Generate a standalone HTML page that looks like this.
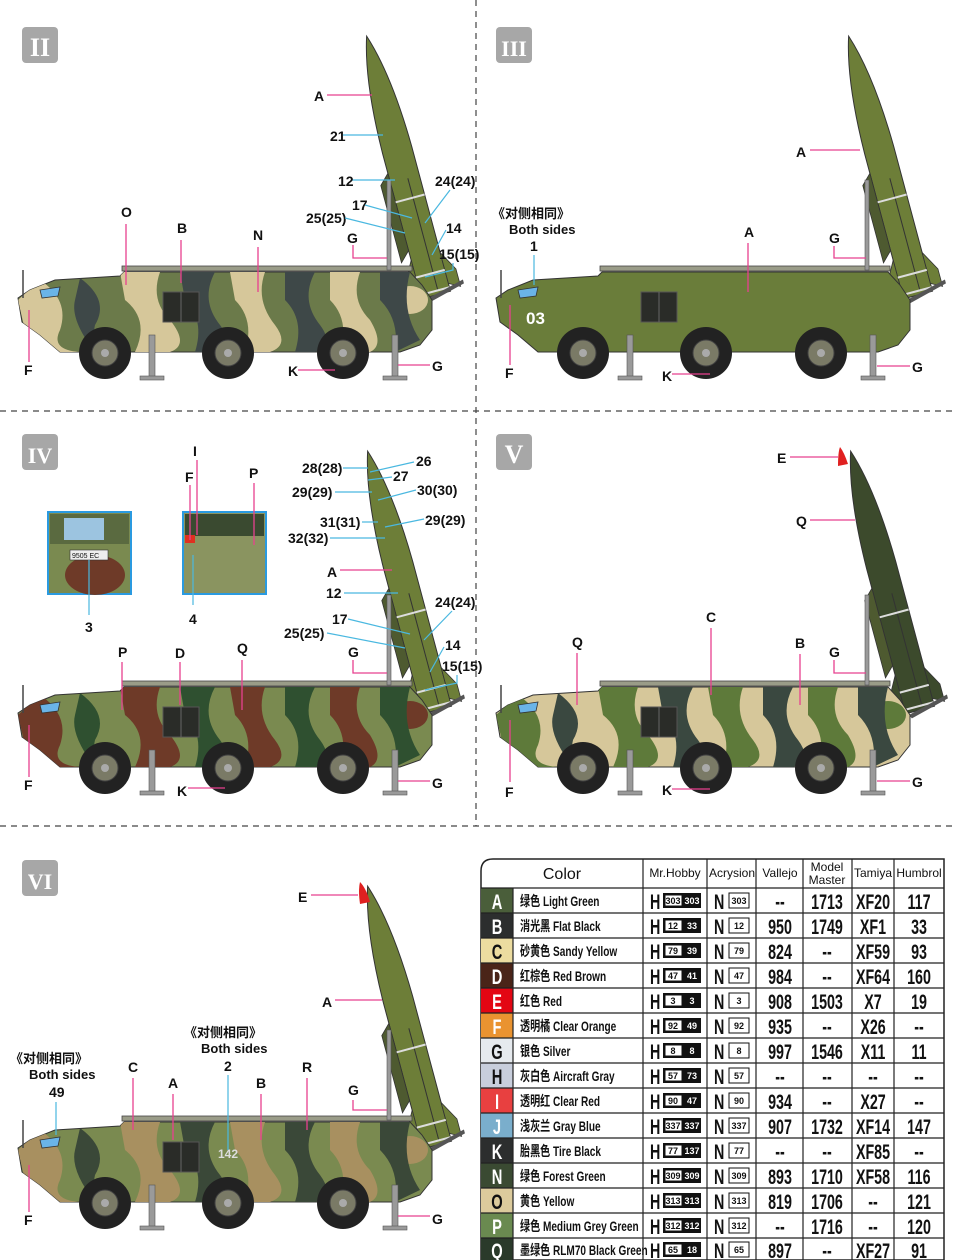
<!DOCTYPE html>
<html><head><meta charset="utf-8"><style>
html,body{margin:0;padding:0;background:#fff}
svg{display:block}
.l{font-family:"Liberation Sans",sans-serif;font-weight:bold;font-size:14px;fill:#111}
.c{font-family:"Liberation Sans","Noto Sans CJK SC",sans-serif;font-weight:bold;font-size:13px;fill:#111}
.pk{stroke:#e8408f;stroke-width:1.3;fill:none}
.cy{stroke:#4ab8e0;stroke-width:1.2;fill:none}
.th{font-family:"Liberation Sans",sans-serif;font-size:12px;fill:#111}
.tn{font-family:"Liberation Sans","Noto Sans CJK SC",sans-serif;font-weight:bold;font-size:14px;fill:#111}
.tv{font-family:"Liberation Sans",sans-serif;font-weight:bold;font-size:21px;fill:#111}
.tl{font-family:"Liberation Sans",sans-serif;font-weight:bold;font-size:21px}
.sm{font-family:"Liberation Sans",sans-serif;font-size:9px;font-weight:bold}
</style></head><body>
<svg width="956" height="1260" viewBox="0 0 956 1260" xmlns="http://www.w3.org/2000/svg">
<defs>
<clipPath id="hc"><path d="M18,298 L30,290 L55,280 L120,276 L124,272 L410,272 L422,285 L432,300 L432,330 L420,345 L400,352 L60,352 L40,335 L22,322 Z"/></clipPath>
<g id="hull"><path d="M18,298 L30,290 L55,280 L120,276 L124,272 L410,272 L422,285 L432,300 L432,330 L420,345 L400,352 L60,352 L40,335 L22,322 Z" fill="currentColor" stroke="#333" stroke-width="1"/></g>
<g id="blobA" fill="currentColor" clip-path="url(#hc)">
<path d="M40,280 Q70,300 60,330 Q50,350 80,352 L30,352 L18,300 Z"/>
<path d="M120,272 L160,272 Q150,300 170,320 Q190,345 170,352 L135,352 Q150,320 125,300 Z"/>
<path d="M230,272 L265,272 Q255,300 275,325 Q290,345 270,352 L245,352 Q255,320 235,300 Z"/>
<path d="M330,272 L360,272 Q350,300 370,320 Q385,345 370,352 L340,352 Q350,320 330,300 Z"/>
<ellipse cx="410" cy="300" rx="18" ry="14"/></g>
<g id="blobB" fill="currentColor" clip-path="url(#hc)">
<path d="M80,278 Q110,300 95,325 Q90,345 120,352 L95,352 Q70,320 75,300 Z"/>
<path d="M180,272 L215,272 Q200,300 220,325 Q235,345 215,352 L195,352 Q205,320 185,300 Z"/>
<path d="M285,272 L315,272 Q300,300 320,325 Q335,345 315,352 L295,352 Q305,320 285,300 Z"/>
<path d="M380,272 L410,272 Q400,310 420,340 L395,352 Q400,320 380,300 Z"/></g>
<g id="det">
<rect x="122" y="266" width="290" height="5" fill="#9a9c88" stroke="#444" stroke-width=".8"/>
<path d="M40,290 L60,287 L58,296 L42,298 Z" fill="#6ab4e8" stroke="#333" stroke-width=".8"/>
<rect x="163" y="292" width="36" height="30" fill="#2a2c28" stroke="#555"/>
<line x1="181" y1="292" x2="181" y2="322" stroke="#666"/>
<line x1="23" y1="270" x2="23" y2="298" stroke="#444" stroke-width="1.5"/>
<g fill="#222"><circle cx="105" cy="353" r="26"/><circle cx="228" cy="353" r="26"/><circle cx="343" cy="353" r="26"/></g>
<g fill="#7a7a66" stroke="#444"><circle cx="105" cy="353" r="13"/><circle cx="228" cy="353" r="13"/><circle cx="343" cy="353" r="13"/></g>
<g fill="#aaa"><circle cx="105" cy="353" r="4"/><circle cx="228" cy="353" r="4"/><circle cx="343" cy="353" r="4"/></g>
<g fill="#9a9a9a" stroke="#555" stroke-width=".6"><rect x="149" y="335" width="6" height="42"/><rect x="140" y="376" width="24" height="4"/><rect x="392" y="335" width="6" height="42"/><rect x="383" y="376" width="24" height="4"/><rect x="387" y="180" width="4" height="90"/></g>
</g>
<g id="mis">
<path d="M-15,0 L-15,-150 Q-14,-225 0,-268 Q14,-225 15,-150 L15,0 Z" fill="currentColor" stroke="#333" stroke-width="1"/>
<path d="M-15,-40 L-26,-20 L-26,-2 L-15,-8 Z M15,-40 L26,-20 L26,-2 L15,-8 Z" fill="currentColor" stroke="#333" stroke-width=".8"/>
<path d="M-15,-130 L-25,-120 L-25,-40 L-15,-50 Z" fill="#4e5a30" stroke="#333" stroke-width=".8"/>
<line x1="3" y1="-120" x2="3" y2="-5" stroke="#333"/>
<line x1="-15" y1="-100" x2="15" y2="-100" stroke="#ddd" stroke-width="2"/>
<line x1="-15" y1="-22" x2="15" y2="-22" stroke="#ddd" stroke-width="2"/>
<line x1="-15" y1="-4" x2="15" y2="-4" stroke="#ddd" stroke-width="2"/>
<path d="M-12,2 L30,-8 L30,-4 L-10,6 Z" fill="#555"/>
</g>
<g id="badge"><rect width="36" height="36" rx="4" fill="#a7a7a7"/></g>
</defs>

<line x1="0" y1="411" x2="956" y2="411" stroke="#444" stroke-width="1.2" stroke-dasharray="6,5"/>
<line x1="0" y1="826" x2="956" y2="826" stroke="#444" stroke-width="1.2" stroke-dasharray="6,5"/>
<line x1="476" y1="0" x2="476" y2="826" stroke="#444" stroke-width="1.2" stroke-dasharray="6,5"/>

<use href="#badge" x="22" y="27"/><text x="40" y="56" text-anchor="middle" font-family="Liberation Serif,serif" font-weight="bold" font-size="26" fill="#fff">II</text>
<use href="#badge" x="496" y="27"/><text x="514" y="56" text-anchor="middle" font-family="Liberation Serif,serif" font-weight="bold" font-size="22" fill="#fff">III</text>
<use href="#badge" x="22" y="434"/><text x="40" y="463" text-anchor="middle" font-family="Liberation Serif,serif" font-weight="bold" font-size="22" fill="#fff">IV</text>
<use href="#badge" x="496" y="434"/><text x="514" y="463" text-anchor="middle" font-family="Liberation Serif,serif" font-weight="bold" font-size="26" fill="#fff">V</text>
<use href="#badge" x="22" y="860"/><text x="40" y="889" text-anchor="middle" font-family="Liberation Serif,serif" font-weight="bold" font-size="22" fill="#fff">VI</text>

<!-- Panel II -->
<g>
<use href="#mis" transform="translate(436,295) rotate(-15)" style="color:#6d7e38"/>
<use href="#hull" style="color:#6b7a4a"/><use href="#blobA" style="color:#d6c79a"/><use href="#blobB" style="color:#3e4848"/>
<use href="#det"/>
</g>
<g>
<line class="pk" x1="327" y1="95" x2="372" y2="95"/><text class="l" x="314" y="101">A</text>
<line class="cy" x1="343" y1="135" x2="383" y2="135"/><text class="l" x="330" y="141">21</text>
<line class="cy" x1="352" y1="180" x2="395" y2="180"/><text class="l" x="338" y="186">12</text>
<text class="l" x="435" y="186">24(24)</text><line class="cy" x1="450" y1="190" x2="425" y2="223"/>
<text class="l" x="352" y="210">17</text><line class="cy" x1="365" y1="205" x2="412" y2="218"/>
<text class="l" x="306" y="223">25(25)</text><line class="cy" x1="345" y1="218" x2="405" y2="233"/>
<text class="l" x="347" y="243">G</text><polyline class="pk" points="353,245 353,258 387,258"/>
<text class="l" x="446" y="233">14</text><line class="cy" x1="446" y1="230" x2="432" y2="255"/>
<text class="l" x="439" y="259">15(15)</text><polyline class="cy" points="453,263 453,270 425,277"/>
<text class="l" x="121" y="217">O</text><line class="pk" x1="126" y1="224" x2="126" y2="285"/>
<text class="l" x="177" y="233">B</text><line class="pk" x1="181" y1="240" x2="181" y2="283"/>
<text class="l" x="253" y="240">N</text><line class="pk" x1="258" y1="247" x2="258" y2="292"/>
<text class="l" x="24" y="375">F</text><line class="pk" x1="29" y1="310" x2="29" y2="362"/>
<text class="l" x="288" y="376">K</text><line class="pk" x1="298" y1="370" x2="335" y2="370"/>
<text class="l" x="432" y="371">G</text><line class="pk" x1="398" y1="365" x2="430" y2="365"/>
</g>

<!-- Panel III -->
<g transform="translate(478,0)">
<use href="#mis" transform="translate(440,295) rotate(-15)" style="color:#6d7e38"/>
<use href="#hull" style="color:#6a7d3a"/>
<use href="#det"/>
<text x="48" y="324" font-family="Liberation Sans,sans-serif" font-size="17" font-weight="bold" fill="#fff">03</text>
</g>
<g>
<text class="c" x="492" y="218">《对侧相同》</text><text class="c" x="509" y="234">Both sides</text>
<text class="l" x="530" y="251">1</text><line class="cy" x1="534" y1="255" x2="534" y2="285"/>
<text class="l" x="796" y="157">A</text><line class="pk" x1="810" y1="150" x2="860" y2="150"/>
<text class="l" x="744" y="237">A</text><line class="pk" x1="748" y1="243" x2="748" y2="292"/>
<text class="l" x="829" y="243">G</text><polyline class="pk" points="834,246 834,258 866,258"/>
<text class="l" x="505" y="378">F</text><line class="pk" x1="510" y1="305" x2="510" y2="365"/>
<text class="l" x="662" y="381">K</text><line class="pk" x1="672" y1="374" x2="710" y2="374"/>
<text class="l" x="912" y="372">G</text><line class="pk" x1="877" y1="366" x2="910" y2="366"/>
</g>

<!-- Panel IV -->
<g transform="translate(0,415)">
<use href="#mis" transform="translate(437,295) rotate(-15)" style="color:#6d7e38"/>
<use href="#hull" style="color:#7a8a50"/><use href="#blobA" style="color:#6e3a28"/><use href="#blobB" style="color:#2f5030"/>
<use href="#det"/>
</g>
<g>
<rect x="48" y="512" width="83" height="82" fill="#7a8a50" stroke="#2a9ae0" stroke-width="2"/>
<rect x="50" y="514" width="79" height="30" fill="#5a6a40"/><rect x="64" y="518" width="40" height="22" fill="#9cc4e0"/>
<ellipse cx="95" cy="575" rx="30" ry="20" fill="#6e3a28"/>
<rect x="70" y="550" width="38" height="10" fill="#eee" stroke="#333" stroke-width=".6"/><text x="72" y="558" font-family="Liberation Sans" font-size="7" fill="#111">9505 EC</text>
<line class="cy" x1="89" y1="560" x2="89" y2="615"/><text class="l" x="85" y="632">3</text>
<rect x="183" y="512" width="83" height="82" fill="#8a9460" stroke="#2a9ae0" stroke-width="2"/>
<rect x="185" y="514" width="79" height="22" fill="#3a4a30"/><rect x="185" y="535" width="10" height="8" fill="#e03020"/>
<line class="pk" x1="190" y1="485" x2="190" y2="540"/><text class="l" x="185" y="482">F</text>
<line class="pk" x1="197" y1="460" x2="197" y2="535"/><text class="l" x="193" y="456">I</text>
<line class="pk" x1="254" y1="483" x2="254" y2="545"/><text class="l" x="249" y="478">P</text>
<line class="cy" x1="193" y1="555" x2="193" y2="605"/><text class="l" x="189" y="624">4</text>
<text class="l" x="302" y="473">28(28)</text><line class="cy" x1="343" y1="468" x2="368" y2="468"/>
<text class="l" x="416" y="466">26</text><line class="cy" x1="414" y1="462" x2="370" y2="472"/>
<text class="l" x="393" y="481">27</text><line class="cy" x1="392" y1="477" x2="368" y2="480"/>
<text class="l" x="292" y="497">29(29)</text><line class="cy" x1="335" y1="492" x2="372" y2="492"/>
<text class="l" x="417" y="495">30(30)</text><line class="cy" x1="416" y1="490" x2="378" y2="500"/>
<text class="l" x="320" y="527">31(31)</text><line class="cy" x1="362" y1="522" x2="378" y2="522"/>
<text class="l" x="425" y="525">29(29)</text><line class="cy" x1="424" y1="519" x2="385" y2="527"/>
<text class="l" x="288" y="543">32(32)</text><line class="cy" x1="330" y1="538" x2="385" y2="538"/>
<text class="l" x="327" y="577">A</text><line class="pk" x1="340" y1="570" x2="392" y2="570"/>
<text class="l" x="326" y="598">12</text><line class="cy" x1="344" y1="593" x2="398" y2="593"/>
<text class="l" x="435" y="607">24(24)</text><line class="cy" x1="452" y1="611" x2="424" y2="640"/>
<text class="l" x="332" y="624">17</text><line class="cy" x1="348" y1="619" x2="410" y2="634"/>
<text class="l" x="284" y="638">25(25)</text><line class="cy" x1="327" y1="633" x2="405" y2="648"/>
<text class="l" x="445" y="650">14</text><line class="cy" x1="444" y1="647" x2="430" y2="672"/>
<text class="l" x="442" y="671">15(15)</text><polyline class="cy" points="457,675 457,683 425,690"/>
<text class="l" x="348" y="657">G</text><polyline class="pk" points="353,660 353,673 387,673"/>
<text class="l" x="118" y="657">P</text><line class="pk" x1="122" y1="662" x2="122" y2="710"/>
<text class="l" x="175" y="658">D</text><line class="pk" x1="180" y1="662" x2="180" y2="705"/>
<text class="l" x="237" y="653">Q</text><line class="pk" x1="242" y1="660" x2="242" y2="710"/>
<text class="l" x="24" y="790">F</text><line class="pk" x1="29" y1="725" x2="29" y2="777"/>
<text class="l" x="177" y="796">K</text><line class="pk" x1="188" y1="788" x2="225" y2="788"/>
<text class="l" x="432" y="788">G</text><line class="pk" x1="398" y1="781" x2="430" y2="781"/>
</g>

<!-- Panel V -->
<g transform="translate(478,415)">
<use href="#mis" transform="translate(442,295) rotate(-15)" style="color:#3c4a2c"/>
<use href="#hull" style="color:#d6c79a"/><use href="#blobA" style="color:#5e7a3a"/><use href="#blobB" style="color:#3a4840"/>
<use href="#det"/>
</g>
<path d="M840,447 Q844,452 848,464 L838,466 Q838,452 840,447Z" fill="#e02020"/>
<g>
<text class="l" x="777" y="463">E</text><line class="pk" x1="790" y1="457" x2="838" y2="457"/>
<text class="l" x="796" y="526">Q</text><line class="pk" x1="810" y1="520" x2="855" y2="520"/>
<text class="l" x="706" y="622">C</text><line class="pk" x1="711" y1="628" x2="711" y2="695"/>
<text class="l" x="795" y="648">B</text><line class="pk" x1="800" y1="654" x2="800" y2="705"/>
<text class="l" x="829" y="657">G</text><polyline class="pk" points="834,660 834,673 866,673"/>
<text class="l" x="572" y="647">Q</text><line class="pk" x1="577" y1="653" x2="577" y2="705"/>
<text class="l" x="505" y="797">F</text><line class="pk" x1="510" y1="720" x2="510" y2="782"/>
<text class="l" x="662" y="795">K</text><line class="pk" x1="672" y1="789" x2="710" y2="789"/>
<text class="l" x="912" y="787">G</text><line class="pk" x1="877" y1="781" x2="910" y2="781"/>
</g>

<!-- Panel VI -->
<g transform="translate(0,850)">
<use href="#mis" transform="translate(437,295) rotate(-15)" style="color:#6d7e38"/>
<use href="#hull" style="color:#7a8a50"/><use href="#blobA" style="color:#a89060"/><use href="#blobB" style="color:#3a4838"/>
<use href="#det"/>
<text x="218" y="308" font-family="Liberation Sans,sans-serif" font-size="12" font-weight="bold" fill="#ddd">142</text>
</g>
<path d="M360,882 Q366,888 370,902 L360,904 Q358,890 360,882Z" fill="#e02020"/>
<g>
<text class="l" x="298" y="902">E</text><line class="pk" x1="311" y1="895" x2="358" y2="895"/>
<text class="l" x="322" y="1007">A</text><line class="pk" x1="335" y1="1000" x2="382" y2="1000"/>
<text class="c" x="184" y="1037">《对侧相同》</text><text class="c" x="201" y="1053">Both sides</text>
<text class="l" x="224" y="1071">2</text><line class="cy" x1="228" y1="1075" x2="228" y2="1150"/>
<text class="c" x="10" y="1063">《对侧相同》</text><text class="c" x="29" y="1079">Both sides</text>
<text class="l" x="49" y="1097">49</text><line class="cy" x1="56" y1="1102" x2="56" y2="1135"/>
<text class="l" x="128" y="1072">C</text><line class="pk" x1="133" y1="1078" x2="133" y2="1130"/>
<text class="l" x="168" y="1088">A</text><line class="pk" x1="173" y1="1094" x2="173" y2="1140"/>
<text class="l" x="256" y="1088">B</text><line class="pk" x1="261" y1="1094" x2="261" y2="1140"/>
<text class="l" x="302" y="1072">R</text><line class="pk" x1="307" y1="1078" x2="307" y2="1130"/>
<text class="l" x="348" y="1095">G</text><polyline class="pk" points="353,1100 353,1110 387,1110"/>
<text class="l" x="24" y="1225">F</text><line class="pk" x1="29" y1="1165" x2="29" y2="1212"/>
<text class="l" x="432" y="1224">G</text><line class="pk" x1="398" y1="1216" x2="430" y2="1216"/>
</g>

<!-- Table -->
<g>
<path d="M493,859 L944,859 L944,1260 L481,1260 L481,871 Q481,859 493,859 Z" fill="#fff" stroke="#222" stroke-width="1.5"/>
<rect x="481" y="888" width="32" height="25" fill="#4a5e3a"/>
<rect x="481" y="913" width="32" height="25" fill="#2c2e2e"/>
<rect x="481" y="938" width="32" height="25" fill="#ecdca0"/>
<rect x="481" y="963" width="32" height="25" fill="#4a2418"/>
<rect x="481" y="988" width="32" height="25" fill="#e30613"/>
<rect x="481" y="1013" width="32" height="25" fill="#ea9330"/>
<rect x="481" y="1038" width="32" height="25" fill="#e6eaee"/>
<rect x="481" y="1063" width="32" height="25" fill="#c8cedc"/>
<rect x="481" y="1088" width="32" height="25" fill="#e84040"/>
<rect x="481" y="1113" width="32" height="25" fill="#7aaecc"/>
<rect x="481" y="1138" width="32" height="25" fill="#2c2e2e"/>
<rect x="481" y="1163" width="32" height="25" fill="#3a4a32"/>
<rect x="481" y="1188" width="32" height="25" fill="#dccb9c"/>
<rect x="481" y="1213" width="32" height="25" fill="#6a8a50"/>
<rect x="481" y="1238" width="32" height="22" fill="#2a3a2a"/>
<g stroke="#222" stroke-width="1.2">
<line x1="481" y1="888" x2="944" y2="888"/>
<line x1="481" y1="913" x2="944" y2="913"/><line x1="481" y1="938" x2="944" y2="938"/><line x1="481" y1="963" x2="944" y2="963"/><line x1="481" y1="988" x2="944" y2="988"/><line x1="481" y1="1013" x2="944" y2="1013"/><line x1="481" y1="1038" x2="944" y2="1038"/><line x1="481" y1="1063" x2="944" y2="1063"/><line x1="481" y1="1088" x2="944" y2="1088"/><line x1="481" y1="1113" x2="944" y2="1113"/><line x1="481" y1="1138" x2="944" y2="1138"/><line x1="481" y1="1163" x2="944" y2="1163"/><line x1="481" y1="1188" x2="944" y2="1188"/><line x1="481" y1="1213" x2="944" y2="1213"/><line x1="481" y1="1238" x2="944" y2="1238"/>
<line x1="513" y1="888" x2="513" y2="1260"/><line x1="643" y1="859" x2="643" y2="1260"/><line x1="707" y1="859" x2="707" y2="1260"/><line x1="756" y1="859" x2="756" y2="1260"/><line x1="803" y1="859" x2="803" y2="1260"/><line x1="852" y1="859" x2="852" y2="1260"/><line x1="894" y1="859" x2="894" y2="1260"/>
</g>
<text x="562" y="879" text-anchor="middle" font-family="Liberation Sans" font-size="16" fill="#111">Color</text>
<text class="th" x="675" y="877" text-anchor="middle">Mr.Hobby</text>
<text class="th" x="732" y="877" text-anchor="middle">Acrysion</text>
<text class="th" x="780" y="877" text-anchor="middle">Vallejo</text>
<text class="th" x="827" y="871" text-anchor="middle">Model</text><text class="th" x="827" y="884" text-anchor="middle">Master</text>
<text class="th" x="873" y="877" text-anchor="middle">Tamiya</text>
<text class="th" x="919" y="877" text-anchor="middle">Humbrol</text>
<g class="tl" text-anchor="middle" fill="#fff" transform="translate(497,0) scale(0.7,1)">
<text x="0" y="909">A</text><text x="0" y="934">B</text><text x="0" y="959" fill="#111">C</text><text x="0" y="984">D</text><text x="0" y="1009">E</text><text x="0" y="1034">F</text><text x="0" y="1059" fill="#111">G</text><text x="0" y="1084" fill="#111">H</text><text x="0" y="1109">I</text><text x="0" y="1134">J</text><text x="0" y="1159">K</text><text x="0" y="1184">N</text><text x="0" y="1209" fill="#111">O</text><text x="0" y="1234">P</text><text x="0" y="1258">Q</text>
</g>
<g class="tn" transform="translate(520,0) scale(0.72,1)">
<text x="0" y="906">绿色 Light Green</text><text x="0" y="931">消光黑 Flat Black</text><text x="0" y="956">砂黄色 Sandy Yellow</text><text x="0" y="981">红棕色 Red Brown</text><text x="0" y="1006">红色 Red</text><text x="0" y="1031">透明橘 Clear Orange</text><text x="0" y="1056">银色 Silver</text><text x="0" y="1081">灰白色 Aircraft Gray</text><text x="0" y="1106">透明红 Clear Red</text><text x="0" y="1131">浅灰兰 Gray Blue</text><text x="0" y="1156">胎黑色 Tire Black</text><text x="0" y="1181">绿色 Forest Green</text><text x="0" y="1206">黄色 Yellow</text><text x="0" y="1231">绿色 Medium Grey Green</text><text x="0" y="1255">墨绿色 RLM70 Black Green</text>
</g>
<g class="tv" transform="translate(650,0) scale(0.68,1)"><text x="0" y="909">H</text><text x="0" y="934">H</text><text x="0" y="959">H</text><text x="0" y="984">H</text><text x="0" y="1009">H</text><text x="0" y="1034">H</text><text x="0" y="1059">H</text><text x="0" y="1084">H</text><text x="0" y="1109">H</text><text x="0" y="1134">H</text><text x="0" y="1159">H</text><text x="0" y="1184">H</text><text x="0" y="1209">H</text><text x="0" y="1234">H</text><text x="0" y="1258">H</text></g>
<g class="tv" transform="translate(714,0) scale(0.68,1)"><text x="0" y="909">N</text><text x="0" y="934">N</text><text x="0" y="959">N</text><text x="0" y="984">N</text><text x="0" y="1009">N</text><text x="0" y="1034">N</text><text x="0" y="1059">N</text><text x="0" y="1084">N</text><text x="0" y="1109">N</text><text x="0" y="1134">N</text><text x="0" y="1159">N</text><text x="0" y="1184">N</text><text x="0" y="1209">N</text><text x="0" y="1234">N</text><text x="0" y="1258">N</text></g>
<g fill="#111"><rect x="663" y="893" width="38" height="15"/><rect x="663" y="918" width="38" height="15"/><rect x="663" y="943" width="38" height="15"/><rect x="663" y="968" width="38" height="15"/><rect x="663" y="993" width="38" height="15"/><rect x="663" y="1018" width="38" height="15"/><rect x="663" y="1043" width="38" height="15"/><rect x="663" y="1068" width="38" height="15"/><rect x="663" y="1093" width="38" height="15"/><rect x="663" y="1118" width="38" height="15"/><rect x="663" y="1143" width="38" height="15"/><rect x="663" y="1168" width="38" height="15"/><rect x="663" y="1193" width="38" height="15"/><rect x="663" y="1218" width="38" height="15"/><rect x="663" y="1242" width="38" height="15"/></g>
<g fill="#fff" stroke="#111"><rect x="665" y="895" width="17" height="11"/><rect x="665" y="920" width="17" height="11"/><rect x="665" y="945" width="17" height="11"/><rect x="665" y="970" width="17" height="11"/><rect x="665" y="995" width="17" height="11"/><rect x="665" y="1020" width="17" height="11"/><rect x="665" y="1045" width="17" height="11"/><rect x="665" y="1070" width="17" height="11"/><rect x="665" y="1095" width="17" height="11"/><rect x="665" y="1120" width="17" height="11"/><rect x="665" y="1145" width="17" height="11"/><rect x="665" y="1170" width="17" height="11"/><rect x="665" y="1195" width="17" height="11"/><rect x="665" y="1220" width="17" height="11"/><rect x="665" y="1244" width="17" height="11"/>
<rect x="729" y="893" width="20" height="15"/><rect x="729" y="918" width="20" height="15"/><rect x="729" y="943" width="20" height="15"/><rect x="729" y="968" width="20" height="15"/><rect x="729" y="993" width="20" height="15"/><rect x="729" y="1018" width="20" height="15"/><rect x="729" y="1043" width="20" height="15"/><rect x="729" y="1068" width="20" height="15"/><rect x="729" y="1093" width="20" height="15"/><rect x="729" y="1118" width="20" height="15"/><rect x="729" y="1143" width="20" height="15"/><rect x="729" y="1168" width="20" height="15"/><rect x="729" y="1193" width="20" height="15"/><rect x="729" y="1218" width="20" height="15"/><rect x="729" y="1242" width="20" height="15"/></g>
<g class="sm" text-anchor="middle" fill="#111">
<text x="673" y="904">303</text><text x="673" y="929">12</text><text x="673" y="954">79</text><text x="673" y="979">47</text><text x="673" y="1004">3</text><text x="673" y="1029">92</text><text x="673" y="1054">8</text><text x="673" y="1079">57</text><text x="673" y="1104">90</text><text x="673" y="1129">337</text><text x="673" y="1154">77</text><text x="673" y="1179">309</text><text x="673" y="1204">313</text><text x="673" y="1229">312</text><text x="673" y="1253">65</text>
<text x="739" y="904">303</text><text x="739" y="929">12</text><text x="739" y="954">79</text><text x="739" y="979">47</text><text x="739" y="1004">3</text><text x="739" y="1029">92</text><text x="739" y="1054">8</text><text x="739" y="1079">57</text><text x="739" y="1104">90</text><text x="739" y="1129">337</text><text x="739" y="1154">77</text><text x="739" y="1179">309</text><text x="739" y="1204">313</text><text x="739" y="1229">312</text><text x="739" y="1253">65</text>
</g>
<g class="sm" text-anchor="middle" fill="#fff">
<text x="692" y="904">303</text><text x="692" y="929">33</text><text x="692" y="954">39</text><text x="692" y="979">41</text><text x="692" y="1004">3</text><text x="692" y="1029">49</text><text x="692" y="1054">8</text><text x="692" y="1079">73</text><text x="692" y="1104">47</text><text x="692" y="1129">337</text><text x="692" y="1154">137</text><text x="692" y="1179">309</text><text x="692" y="1204">313</text><text x="692" y="1229">312</text><text x="692" y="1253">18</text>
</g>
<g class="tv" text-anchor="middle" transform="translate(780,0) scale(0.68,1)">
<text x="0" y="909">--</text><text x="0" y="934">950</text><text x="0" y="959">824</text><text x="0" y="984">984</text><text x="0" y="1009">908</text><text x="0" y="1034">935</text><text x="0" y="1059">997</text><text x="0" y="1084">--</text><text x="0" y="1109">934</text><text x="0" y="1134">907</text><text x="0" y="1159">--</text><text x="0" y="1184">893</text><text x="0" y="1209">819</text><text x="0" y="1234">--</text><text x="0" y="1258">897</text></g>
<g class="tv" text-anchor="middle" transform="translate(827,0) scale(0.68,1)">
<text x="0" y="909">1713</text><text x="0" y="934">1749</text><text x="0" y="959">--</text><text x="0" y="984">--</text><text x="0" y="1009">1503</text><text x="0" y="1034">--</text><text x="0" y="1059">1546</text><text x="0" y="1084">--</text><text x="0" y="1109">--</text><text x="0" y="1134">1732</text><text x="0" y="1159">--</text><text x="0" y="1184">1710</text><text x="0" y="1209">1706</text><text x="0" y="1234">1716</text><text x="0" y="1258">--</text></g>
<g class="tv" text-anchor="middle" transform="translate(873,0) scale(0.68,1)">
<text x="0" y="909">XF20</text><text x="0" y="934">XF1</text><text x="0" y="959">XF59</text><text x="0" y="984">XF64</text><text x="0" y="1009">X7</text><text x="0" y="1034">X26</text><text x="0" y="1059">X11</text><text x="0" y="1084">--</text><text x="0" y="1109">X27</text><text x="0" y="1134">XF14</text><text x="0" y="1159">XF85</text><text x="0" y="1184">XF58</text><text x="0" y="1209">--</text><text x="0" y="1234">--</text><text x="0" y="1258">XF27</text></g>
<g class="tv" text-anchor="middle" transform="translate(919,0) scale(0.68,1)">
<text x="0" y="909">117</text><text x="0" y="934">33</text><text x="0" y="959">93</text><text x="0" y="984">160</text><text x="0" y="1009">19</text><text x="0" y="1034">--</text><text x="0" y="1059">11</text><text x="0" y="1084">--</text><text x="0" y="1109">--</text><text x="0" y="1134">147</text><text x="0" y="1159">--</text><text x="0" y="1184">116</text><text x="0" y="1209">121</text><text x="0" y="1234">120</text><text x="0" y="1258">91</text></g>
</g>
</svg>
</body></html>
